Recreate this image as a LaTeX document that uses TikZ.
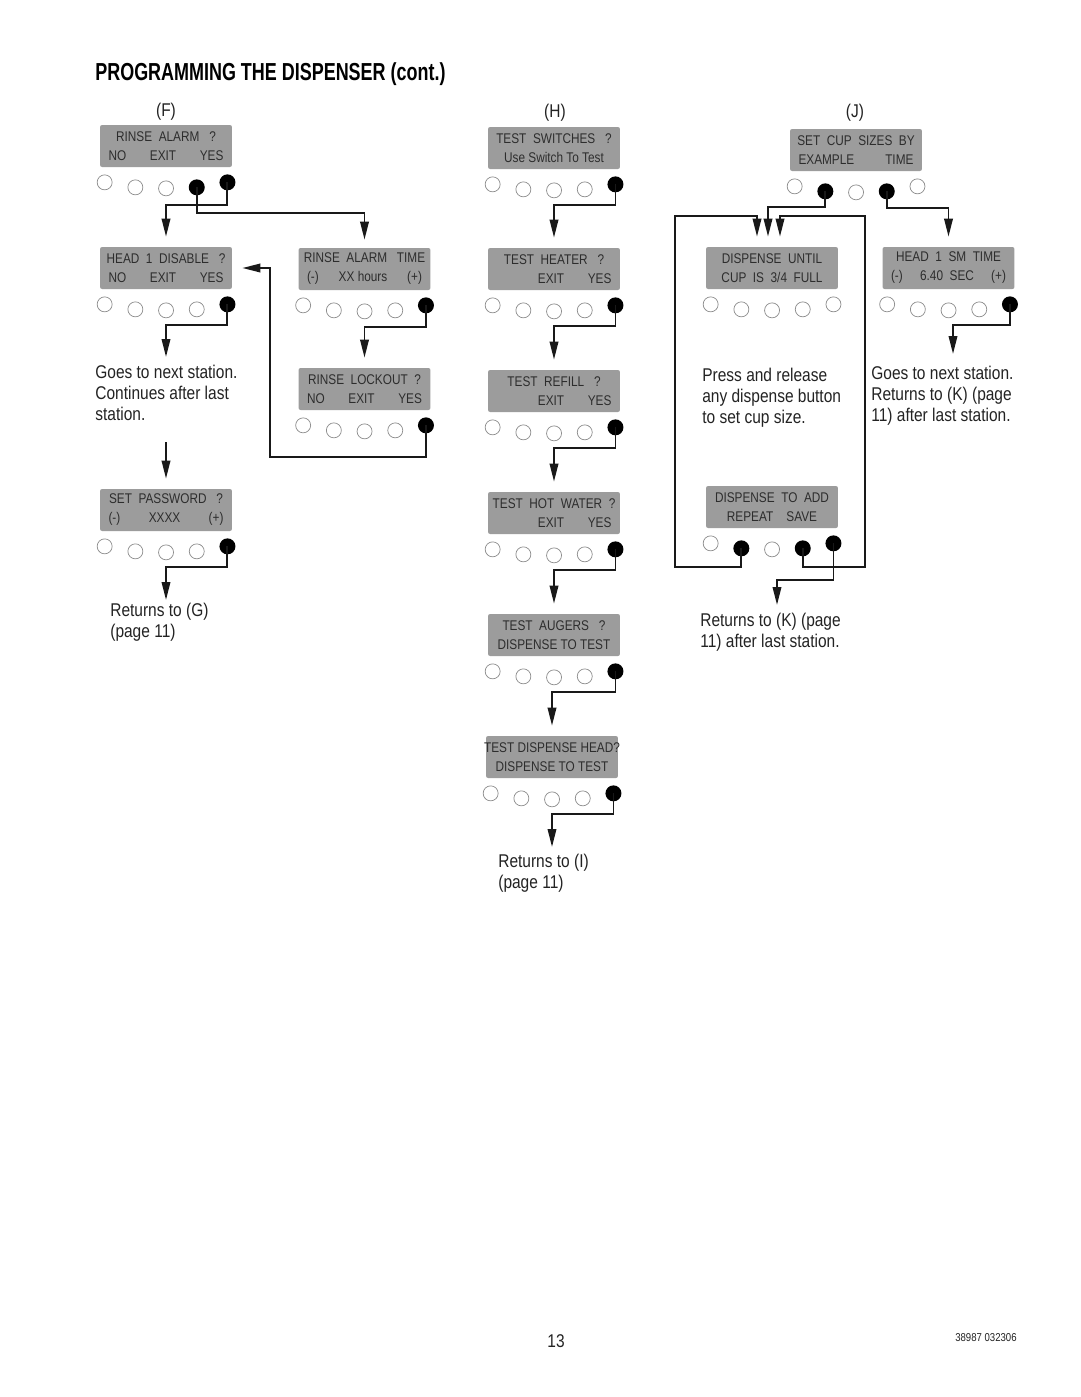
\documentclass[tikz,border=0pt]{standalone}
\usepackage{fontspec}
\setmainfont[FakeStretch=0.84]{Liberation Sans}
\newfontfamily\headfont[FakeStretch=0.73]{Liberation Sans}
\usetikzlibrary{calc,arrows.meta}
\definecolor{lcdgray}{RGB}{156,156,156}
\definecolor{lcdink}{RGB}{45,45,45}
\definecolor{inkgray}{RGB}{35,35,35}
\newcommand\lcdline[1]{\makebox[2.3cm]{#1}}
\newcommand\keyrow[6]{%
  \foreach \k/\dy/\st in {1/0/#2,2/5/#3,3/6/#4,4/5/#5,5/0/#6}
    \node[\st] (#1b\k) at ($(#1.south west)+({5+30.7*(\k-1)},{15+\dy})$) {};}
\begin{document}
\begin{tikzpicture}[x=0.02cm,y=-0.02cm,
  lcd/.style={fill=lcdgray,rounded corners=1.2pt,minimum width=2.64cm,minimum height=0.84cm,
    inner xsep=0pt,inner ysep=0pt,align=center,text=lcdink,
    font=\fontsize{8}{10.8}\selectfont},
  keyoff/.style={circle,draw=black!45,line width=0.4pt,fill=white,minimum size=0.3cm,inner sep=0pt},
  keyon/.style={circle,fill=black,minimum size=0.32cm,inner sep=0pt},
  flow/.style={draw=black!90,line width=1.1pt,-{Triangle[length=0.36cm,width=0.17cm]}},
  note/.style={anchor=north west,align=left,inner sep=0pt,text=inkgray,font=\fontsize{10.5}{11.95}\selectfont},
  tag/.style={inner sep=0pt,text=inkgray,font=\fontsize{10.5}{11.95}\selectfont}]
\fill[white] (0,0) rectangle (1080,1397);
\useasboundingbox (0,0) rectangle (1080,1397);
\node[anchor=base west,inner sep=0pt,font=\headfont\bfseries\fontsize{14}{16}\selectfont] (title) at (95,80) {PROGRAMMING THE DISPENSER (cont.)};
\node[tag] (Flab) at (166,112) {(F)};
\node[tag] (Hlab) at (555,113) {(H)};
\node[tag] (Jlab) at (855,113) {(J)};
\node[lcd] (F1) at (166,146) {\lcdline{RINSE\ \ ALARM\ \ \ ?}\\\lcdline{NO\hfill EXIT\hfill YES}};
\node[lcd] (F2) at (166,268) {\lcdline{HEAD\ \ 1\ \ DISABLE\ \ \ ?}\\\lcdline{NO\hfill EXIT\hfill YES}};
\node[lcd] (F3) at (166,510) {\lcdline{SET\ \ PASSWORD\ \ \ ?}\\\lcdline{(-)\hfill XXXX\hfill (+)}};
\node[lcd] (F4) at (364.5,269) {\lcdline{RINSE\ \ ALARM\ \ \ TIME}\\\lcdline{(-)\hfill XX hours\hfill (+)}};
\node[lcd] (F5) at (364.5,389) {\lcdline{RINSE\ \ LOCKOUT\ \ ?}\\\lcdline{NO\hfill EXIT\hfill YES}};
\node[lcd] (H1) at (554,148) {\lcdline{TEST\ \ SWITCHES\ \ \ ?}\\\lcdline{Use Switch To Test}};
\node[lcd] (H2) at (554,269) {\lcdline{TEST\ \ HEATER\ \ \ ?}\\\lcdline{\phantom{NO}\hfill EXIT\hfill YES}};
\node[lcd] (H3) at (554,391) {\lcdline{TEST\ \ REFILL\ \ \ ?}\\\lcdline{\phantom{NO}\hfill EXIT\hfill YES}};
\node[lcd] (H4) at (554,513) {\lcdline{TEST\ \ HOT\ \ WATER\ \ ?}\\\lcdline{\phantom{NO}\hfill EXIT\hfill YES}};
\node[lcd] (H5) at (554,635) {\lcdline{TEST\ \ AUGERS\ \ \ ?}\\\lcdline{DISPENSE TO TEST}};
\node[lcd] (H6) at (552,757) {\lcdline{TEST DISPENSE HEAD?}\\\lcdline{DISPENSE TO TEST}};
\node[lcd] (J1) at (856,150) {\lcdline{SET\ \ CUP\ \ SIZES\ \ BY}\\\lcdline{EXAMPLE\hfill TIME}};
\node[lcd] (J2) at (772,268) {\lcdline{DISPENSE\ \ UNTIL}\\\lcdline{CUP\ \ IS\ \ 3/4\ \ FULL}};
\node[lcd] (J3) at (772,507) {\lcdline{DISPENSE\ \ TO\ \ ADD}\\\lcdline{REPEAT\ \ \ \ SAVE}};
\node[lcd] (J4) at (948.5,268) {\lcdline{HEAD\ \ 1\ \ SM\ \ TIME}\\\lcdline{(-)\hfill 6.40\ \ SEC\hfill (+)}};
\keyrow{F1}{keyoff}{keyoff}{keyoff}{keyon}{keyon}
\keyrow{F2}{keyoff}{keyoff}{keyoff}{keyoff}{keyon}
\keyrow{F3}{keyoff}{keyoff}{keyoff}{keyoff}{keyon}
\keyrow{F4}{keyoff}{keyoff}{keyoff}{keyoff}{keyon}
\keyrow{F5}{keyoff}{keyoff}{keyoff}{keyoff}{keyon}
\keyrow{H1}{keyoff}{keyoff}{keyoff}{keyoff}{keyon}
\keyrow{H2}{keyoff}{keyoff}{keyoff}{keyoff}{keyon}
\keyrow{H3}{keyoff}{keyoff}{keyoff}{keyoff}{keyon}
\keyrow{H4}{keyoff}{keyoff}{keyoff}{keyoff}{keyon}
\keyrow{H5}{keyoff}{keyoff}{keyoff}{keyoff}{keyon}
\keyrow{H6}{keyoff}{keyoff}{keyoff}{keyoff}{keyon}
\keyrow{J1}{keyoff}{keyon}{keyoff}{keyon}{keyoff}
\keyrow{J2}{keyoff}{keyoff}{keyoff}{keyoff}{keyoff}
\keyrow{J3}{keyoff}{keyon}{keyoff}{keyon}{keyon}
\keyrow{J4}{keyoff}{keyoff}{keyoff}{keyoff}{keyon}
\node[note] (F2note) at (95,365) {Goes to next station.\\Continues after last\\station.};
\node[note] (F3note) at (110,603) {Returns to (G)\\(page 11)};
\node[note] (H6note) at (498,854) {Returns to (I)\\(page 11)};
\node[note] (J2note) at (702,368) {Press and release\\any dispense button\\to set cup size.};
\node[note] (J3note) at (700,613) {Returns to (K) (page\\11) after last station.};
\node[note] (J4note) at (871,366) {Goes to next station.\\Returns to (K) (page\\11) after last station.};
\coordinate (F2end) at (166,357);
\coordinate (F2cont) at (166,442);
\coordinate (F3end) at (166,600);
\coordinate (H6end) at (552,847);
\coordinate (J3end) at (777,605);
\coordinate (J4end) at (953,354);
\draw[flow] (F1b5.center) -- ++(0,23) -| ([yshift=.2cm]F2.north);
\draw[flow] (F1b4.center) -- ++(0,26) -| ([yshift=.16cm]F4.north);
\draw[flow] (F2b5.center) -- ++(0,21) -| (F2end);
\draw[flow] (F2cont) -- ([yshift=.2cm]F3.north);
\draw[flow] (F3b5.center) -- ++(0,21) -| (F3end);
\draw[flow] (F4b5.center) -- ++(0,22) -| ([yshift=.2cm]F5.north);
\draw[flow] (F5b5.center) |- (270,457) |- ([xshift=.2cm]F2.east);
\draw[flow] (H1b5.center) -- ++(0,21) -| ([yshift=.2cm]H2.north);
\draw[flow] (H2b5.center) -- ++(0,21) -| ([yshift=.2cm]H3.north);
\draw[flow] (H3b5.center) -- ++(0,21) -| ([yshift=.2cm]H4.north);
\draw[flow] (H4b5.center) -- ++(0,21) -| ([yshift=.2cm]H5.north);
\draw[flow] (H5b5.center) -- ++(0,21) -| ([yshift=.2cm]H6.north);
\draw[flow] (H6b5.center) -- ++(0,21) -| (H6end);
\draw[flow] (J1b2.center) -- ++(0,16) -| ([xshift=-.08cm,yshift=.2cm]J2.north);
\draw[flow] (J1b4.center) -- ++(0,17) -| ([yshift=.2cm]J4.north);
\draw[flow] (J3b2.center) |- (675,567) -- (675,216) -| ([xshift=-.3cm,yshift=.2cm]J2.north);
\draw[flow] (J3b4.center) |- (865,567) -- (865,216) -| ([xshift=.16cm,yshift=.2cm]J2.north);
\draw[flow] (J3b5.center) -- ++(0,37) -| (J3end);
\draw[flow] (J4b5.center) -- ++(0,21) -| (J4end);
\node[tag] (pagenum) at (556,1341) {13};
\node[anchor=east,inner sep=0pt,text=inkgray,font=\fontsize{6.5}{8}\selectfont] (docnum) at (1017,1338) {38987 032306};
\end{tikzpicture}
\end{document}
